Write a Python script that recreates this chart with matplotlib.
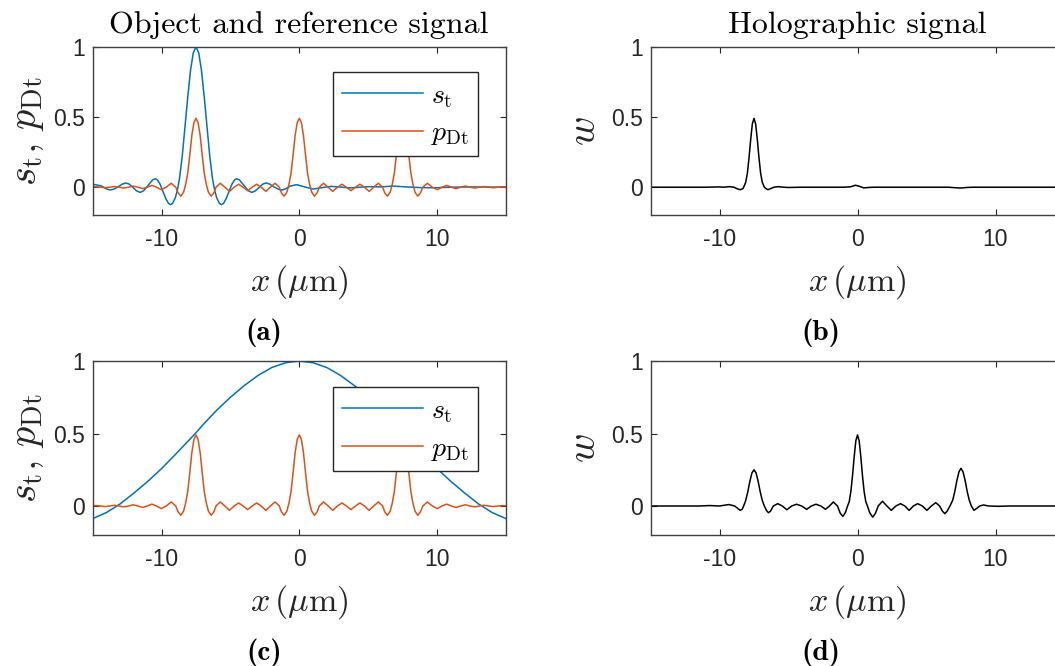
import numpy as np
import matplotlib
matplotlib.use('Agg')
import matplotlib.pyplot as plt

plt.rcParams['mathtext.fontset'] = 'cm'
plt.rcParams['axes.unicode_minus'] = False

# reference signal p_Dt (same in panels a and c)
X_PDT = [-15.00, -14.78, -14.44, -14.10, -13.76, -13.42, -13.08, -12.74, -12.40,
         -12.06, -11.72, -11.38, -11.04, -10.70, -10.36, -10.02, -9.66, -9.30,
         -8.97, -8.80, -8.60, -8.40, -8.25, -8.10, -7.95, -7.80, -7.65, -7.50,
         -7.35, -7.20, -7.05, -6.90, -6.75, -6.60, -6.40, -6.20, -6.05, -5.74,
         -5.40, -5.07, -4.73, -4.40, -4.08, -3.75, -3.42, -3.10, -2.77, -2.43,
         -2.10, -1.76, -1.45, -1.30, -1.10, -0.90, -0.75, -0.60, -0.45, -0.30,
         -0.15, 0.00, 0.15, 0.30, 0.45, 0.60, 0.75, 0.90, 1.10, 1.30,
         1.45, 1.76, 2.10, 2.43, 2.77, 3.10, 3.42, 3.75, 4.08, 4.40,
         4.73, 5.07, 5.40, 5.74, 6.05, 6.20, 6.40, 6.60, 6.75, 6.90,
         7.05, 7.20, 7.35, 7.50, 7.65, 7.80, 7.95, 8.10, 8.25, 8.40,
         8.60, 8.80, 8.97, 9.30, 9.66, 10.02, 10.36, 10.70, 11.04, 11.38,
         11.72, 12.06, 12.40, 12.74, 13.08, 13.42, 13.76, 14.10, 14.44, 14.78, 15.00]
P_DT = [0.002, 0.003, 0.000, -0.004, 0.000, 0.005, 0.000, -0.006, 0.000,
        0.008, 0.000, -0.010, 0.000, 0.013, 0.000, -0.018, 0.000, 0.028,
        0.000, -0.040, -0.064, -0.035, 0.020, 0.100, 0.230, 0.370, 0.460, 0.490,
        0.460, 0.370, 0.230, 0.100, 0.020, -0.035, -0.064, -0.040, 0.000, 0.028,
        0.000, -0.030, 0.000, 0.021, 0.000, -0.025, 0.000, 0.021, 0.000, -0.030,
        0.000, 0.028, 0.000, -0.040, -0.064, -0.035, 0.020, 0.100, 0.230, 0.370,
        0.460, 0.490, 0.460, 0.370, 0.230, 0.100, 0.020, -0.035, -0.064, -0.040,
        0.000, 0.028, 0.000, -0.030, 0.000, 0.021, 0.000, -0.025, 0.000, 0.021,
        0.000, -0.030, 0.000, 0.028, 0.000, -0.040, -0.064, -0.035, 0.020, 0.100,
        0.230, 0.370, 0.460, 0.490, 0.460, 0.370, 0.230, 0.100, 0.020, -0.035,
        -0.064, -0.040, 0.000, 0.028, 0.000, -0.018, 0.000, 0.013, 0.000, -0.010,
        0.000, 0.008, 0.000, -0.006, 0.000, 0.005, 0.000, -0.004, 0.000, 0.003, 0.002]

# object signal s_t, panel (a): narrow object at x = -7.5
X_ST_A = [-15.00, -14.80, -14.35, -14.00, -13.75, -13.50, -13.20, -12.85, -12.60,
          -12.35, -12.10, -11.80, -11.55, -11.30, -11.00, -10.65, -10.45, -10.30,
          -10.10, -9.90, -9.70, -9.50, -9.35, -9.20, -9.00, -8.85, -8.70, -8.50,
          -8.30, -8.10, -7.90, -7.70, -7.50, -7.30, -7.10, -6.90, -6.70, -6.50,
          -6.30, -6.15, -6.00, -5.80, -5.65, -5.50, -5.30, -5.10, -4.90, -4.70,
          -4.55, -4.35, -4.00, -3.70, -3.45, -3.20, -2.90, -2.65, -2.40, -2.15,
          -1.80, -1.50, -1.25, -1.00, -0.65, -0.20, 0.40, 1.00, 1.60, 2.30,
          3.00, 3.70, 4.40, 5.10, 5.90, 6.80, 7.80, 8.80, 9.80, 11.00, 12.50, 15.00]
S_T_A = [0.020, 0.018, 0.008, -0.012, -0.020, -0.015, 0.000, 0.022, 0.030,
         0.022, 0.000, -0.027, -0.037, -0.025, 0.010, 0.052, 0.060, 0.052,
         0.020, -0.030, -0.080, -0.115, -0.124, -0.115, -0.075, -0.020, 0.060, 0.220,
         0.430, 0.640, 0.830, 0.955, 1.000, 0.955, 0.830, 0.640, 0.430, 0.220,
         0.060, -0.020, -0.075, -0.115, -0.124, -0.115, -0.080, -0.030, 0.020, 0.052,
         0.060, 0.052, 0.010, -0.025, -0.037, -0.027, 0.000, 0.022, 0.030, 0.022,
         0.000, -0.015, -0.020, -0.012, 0.008, 0.018, 0.002, -0.013, -0.004, 0.006,
         0.001, -0.005, 0.000, 0.004, 0.002, 0.008, 0.002, -0.003, -0.004, 0.000, 0.002, 0.000]

# holographic signal w, panel (b)
X_W_B = [-15.00, -11.00, -10.00, -9.70, -9.30, -8.95, -8.70, -8.50, -8.30,
         -8.25, -8.10, -7.98, -7.86, -7.74, -7.62, -7.50, -7.38, -7.26, -7.14,
         -7.02, -6.90, -6.75, -6.60, -6.50, -6.30, -6.05, -5.75, -5.40, -5.00,
         -4.00, -1.00, -0.50, -0.15, 0.15, 0.45, 0.80, 1.20, 6.60, 7.10,
         7.50, 7.90, 8.40, 15.00]
W_B = [0.000, 0.000, 0.002, 0.000, 0.004, 0.000, -0.012, -0.018, -0.010,
       0.000, 0.035, 0.100, 0.210, 0.340, 0.450, 0.490, 0.450, 0.340, 0.210,
       0.100, 0.035, 0.000, -0.012, -0.018, -0.010, 0.000, 0.004, 0.000, -0.002,
       0.000, 0.000, 0.003, 0.014, 0.006, -0.005, -0.002, 0.000, 0.000, -0.004,
       -0.006, -0.002, 0.000, 0.000]

# object signal s_t, panel (c): wide object centred at x = 0
X_ST_C = [-15, -14, -13, -12, -11, -10, -9, -8, -7.5, -7, -6, -5, -4, -3, -2, -1,
          0, 1, 2, 3, 4, 5, 6, 7, 7.5, 8, 9, 10, 11, 12, 13, 14, 15]
S_T_C = [-0.087, -0.045, 0.015, 0.090, 0.170, 0.258, 0.355, 0.455, 0.505, 0.560,
         0.660, 0.750, 0.830, 0.900, 0.955, 0.988, 1.000, 0.988, 0.955, 0.900,
         0.830, 0.750, 0.660, 0.560, 0.505, 0.455, 0.355, 0.258, 0.170, 0.090,
         0.015, -0.045, -0.087]

# holographic signal w, panel (d)
X_W_D = [-15.00, -11.50, -10.70, -10.00, -9.32, -8.90, -8.50, -8.35, -8.25,
         -8.10, -7.95, -7.80, -7.65, -7.50, -7.35, -7.20, -7.05, -6.90, -6.75,
         -6.60, -6.45, -6.30, -6.10, -5.78, -5.45, -5.12, -4.77, -4.42, -4.05,
         -3.68, -3.35, -3.01, -2.65, -2.32, -2.03, -1.75, -1.45, -1.25, -1.06,
         -0.88, -0.72, -0.60, -0.48, -0.36, -0.24, -0.12, 0.00, 0.12, 0.24,
         0.36, 0.48, 0.60, 0.72, 0.88, 1.10, 1.30, 1.50, 1.81, 2.13,
         2.45, 2.78, 3.12, 3.43, 3.74, 4.05, 4.36, 4.70, 5.03, 5.35,
         5.67, 5.95, 6.15, 6.33, 6.50, 6.70, 6.90, 7.05, 7.20, 7.35,
         7.50, 7.65, 7.80, 7.95, 8.10, 8.25, 8.44, 8.70, 8.85, 9.13,
         9.50, 10.20, 11.00, 15.00]
W_D = [0.000, 0.000, 0.003, 0.000, 0.010, 0.000, -0.030, -0.022, 0.000,
       0.038, 0.098, 0.170, 0.228, 0.250, 0.228, 0.170, 0.098, 0.038, 0.000,
       -0.030, -0.047, -0.035, 0.000, 0.016, 0.000, -0.026, 0.000, 0.012, 0.000,
       -0.023, 0.000, 0.012, 0.000, -0.023, 0.000, 0.028, 0.000, -0.050, -0.072,
       -0.045, 0.000, 0.030, 0.100, 0.210, 0.340, 0.450, 0.490, 0.450, 0.340,
       0.210, 0.100, 0.030, 0.000, -0.045, -0.077, -0.050, 0.000, 0.033, 0.000,
       -0.030, 0.000, 0.016, 0.000, -0.030, 0.000, 0.016, 0.000, -0.030, 0.000,
       0.023, 0.000, -0.035, -0.053, -0.035, 0.000, 0.040, 0.100, 0.175, 0.235,
       0.260, 0.235, 0.175, 0.100, 0.040, 0.000, -0.030, -0.012, 0.000, 0.007,
       0.000, -0.002, 0.000, 0.000]

XTICKS = [-10, 0, 10]
YTICKS = [0, 0.5, 1]
YTICKLABELS = ['0', '0.5', '1']

BLUE = '#0072BD'
ORANGE = '#D95319'
W, H = 1055, 666


def add_axes(left, right, top, bottom):
    # pixel box -> figure fraction
    return fig.add_axes([left / W, 1 - bottom / H, (right - left) / W, (bottom - top) / H])


def style(ax):
    ax.set_xlim(-15, 15)
    ax.set_ylim(-0.2, 1)
    ax.set_xticks(XTICKS)
    ax.set_xticklabels([str(t) for t in XTICKS])
    ax.set_yticks(YTICKS)
    ax.set_yticklabels(YTICKLABELS)
    ax.tick_params(direction='in', top=True, right=True, length=4, width=0.8,
                   color='#262626', labelsize=16.5, labelcolor='#262626')
    ax.tick_params(axis='x', pad=9)
    ax.tick_params(axis='y', pad=5.5)
    for lab in ax.get_xticklabels() + ax.get_yticklabels():
        lab.set_fontfamily('Liberation Sans')
    for sp in ax.spines.values():
        sp.set_color('#404040')
        sp.set_linewidth(1.0)


def add_legend(ax):
    leg = ax.legend(loc='upper right', bbox_to_anchor=(0.933, 0.85), borderaxespad=0,
                    fontsize=20, handlelength=2.9, handletextpad=0.3,
                    fancybox=False, framealpha=1, edgecolor='#262626',
                    borderpad=0.32, labelspacing=0.32)
    leg.get_frame().set_linewidth(1.0)


fig = plt.figure(figsize=(W / 100, H / 100), dpi=100)

ax_a = add_axes(92.7, 505.9, 46.7, 215.3)
ax_b = add_axes(650.5, 1064.5, 46.7, 215.3)
ax_c = add_axes(92.7, 505.9, 361, 535)
ax_d = add_axes(650.5, 1064.5, 361, 535)

ax_a.plot(X_ST_A, S_T_A, color=BLUE, lw=1.1, label=r'$s_{\mathrm{t}}$')
ax_a.plot(X_PDT, P_DT, color=ORANGE, lw=1.1, label=r'$p_{\mathrm{Dt}}$')
ax_c.plot(X_ST_C, S_T_C, color=BLUE, lw=1.1, label=r'$s_{\mathrm{t}}$')
ax_c.plot(X_PDT, P_DT, color=ORANGE, lw=1.1, label=r'$p_{\mathrm{Dt}}$')
ax_b.plot(X_W_B, W_B, color='black', lw=1.1)
ax_d.plot(X_W_D, W_D, color='black', lw=1.1)

for ax in (ax_a, ax_b, ax_c, ax_d):
    style(ax)
add_legend(ax_a)
add_legend(ax_c)

for ax, yl in ((ax_a, r'$s_{\mathrm{t}},\,p_{\mathrm{Dt}}$'), (ax_c, r'$s_{\mathrm{t}},\,p_{\mathrm{Dt}}$'),
               (ax_b, r'$w$'), (ax_d, r'$w$')):
    ax.set_xlabel(r'$x\,(\mu\mathrm{m})$', labelpad=9, fontsize=24.5, color='#262626')
    ax.set_ylabel(yl, labelpad=5, fontsize=29, color='#262626')

fig.text(299 / W, 1 - 33 / H, 'Object and reference signal', family='cmr10',
         fontsize=23, ha='center', va='baseline')
fig.text(857 / W, 1 - 33 / H, 'Holographic signal', family='cmr10',
         fontsize=23, ha='center', va='baseline')

for x, y, t in ((264, 340, '(a)'), (821, 340, '(b)'), (264, 660, '(c)'), (821, 660, '(d)')):
    fig.text(x / W, 1 - y / H, t, family='cmb10', fontsize=21, ha='center', va='baseline')

fig.savefig('out.png', dpi=100)
